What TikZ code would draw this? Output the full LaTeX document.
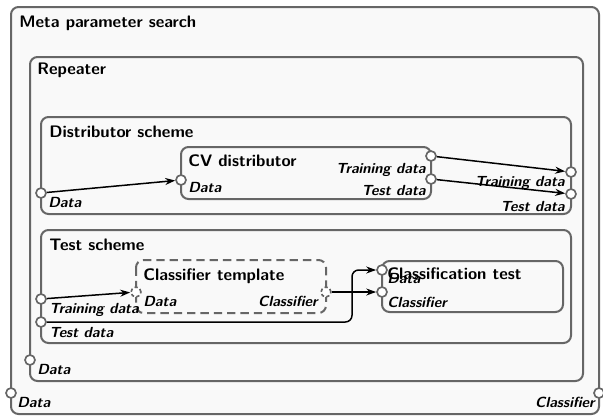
\documentclass[tikz,border=0pt]{standalone}
\usepackage{fontspec}
\usetikzlibrary{arrows.meta}
\definecolor{boxgray}{HTML}{666666}
\definecolor{boxfill}{HTML}{F9F9F9}
\tikzset{
  box/.style={draw=boxgray, fill=boxfill, line width=1.2pt, rounded corners=4.5pt},
  title/.style={anchor=base west, inner sep=0pt, font=\sffamily\bfseries},
  port/.style={circle, draw=boxgray, fill=white, line width=1pt, inner sep=0pt, minimum size=6pt},
  lbl/.style={inner sep=0pt, font=\sffamily\bfseries\itshape\fontsize{8.8}{10}\selectfont},
  flow/.style={-{Stealth[length=6pt,width=4.2pt]}, line width=0.9pt, black}
}
\begin{document}
\begin{tikzpicture}[x=0.6pt,y=-0.6pt]
\useasboundingbox (0,0) rectangle (603,417);
% boxes, outer to inner
\draw[box] (11,7) rectangle (599,414);
\node[title] (metaT) at (19,27) {Meta parameter search};
\draw[box] (30,57) rectangle (583,381);
\node[title] (repT) at (37,74) {Repeater};
\draw[box] (41,117) rectangle (571,214);
\node[title] (distT) at (49,137) {Distributor scheme};
\draw[box] (181,147) rectangle (431,199);
\node[title] (cvT) at (188,166) {CV distributor};
\draw[box] (41,230) rectangle (571,343);
\node[title] (testT) at (49,250) {Test scheme};
\draw[box, dashed, dash pattern=on 5pt off 3pt] (136,260) rectangle (326,313);
\node[title] (tmplT) at (143,280) {Classifier template};
\draw[box] (382,261) rectangle (563,312);
\node[title] (ctT) at (387,279) {Classification test};
% ports
\node[port] (metaData) at (11,393) {};
\node[port] (metaCls) at (599,393) {};
\node[port] (repData) at (30,360) {};
\node[port] (distData) at (41,193) {};
\node[port] (distTrain) at (571,172) {};
\node[port] (distTest) at (571,194) {};
\node[port] (cvData) at (181,180) {};
\node[port] (cvTrain) at (431,156) {};
\node[port] (cvTest) at (431,179) {};
\node[port] (tsTrain) at (41,299) {};
\node[port] (tsTest) at (41,322) {};
\node[port, dashed, dash pattern=on 2pt off 1.5pt] (tmplData) at (136,292) {};
\node[port, dashed, dash pattern=on 2pt off 1.5pt] (tmplCls) at (326,292) {};
\node[port] (ctData) at (382,270) {};
\node[port] (ctCls) at (382,292) {};
% port labels
\node[lbl, anchor=base west] (metaDataL) at (17,407) {Data};
\node[lbl, anchor=base east] (metaClsL) at (595,407) {Classifier};
\node[lbl, anchor=base west] (repDataL) at (37,374) {Data};
\node[lbl, anchor=base west] (distDataL) at (48,207) {Data};
\node[lbl, anchor=base east] (distTrainL) at (565,186) {Training data};
\node[lbl, anchor=base east] (distTestL) at (565,211) {Test data};
\node[lbl, anchor=base west] (cvDataL) at (188,192) {Data};
\node[lbl, anchor=base east] (cvTrainL) at (426,173) {Training data};
\node[lbl, anchor=base east] (cvTestL) at (426,195) {Test data};
\node[lbl, anchor=base west] (tsTrainL) at (49,313) {Training data};
\node[lbl, anchor=base west] (tsTestL) at (49,337) {Test data};
\node[lbl, anchor=base west] (tmplDataL) at (143,306) {Data};
\node[lbl, anchor=base east] (tmplClsL) at (318,306) {Classifier};
\node[lbl, anchor=base west] (ctDataL) at (387,283) {Data};
\node[lbl, anchor=base west] (ctClsL) at (387,307) {Classifier};
% connections
\draw[flow] (distData) -- (cvData);
\draw[flow] (cvTrain) -- (distTrain);
\draw[flow] (cvTest) -- (distTest);
\draw[flow] (tsTrain) -- (tmplData);
\draw[flow] (tmplCls) -- (ctCls);
\coordinate (bend) at (352,322);
\draw[flow, rounded corners=4pt] (tsTest) -- (bend) |- (ctData);
\end{tikzpicture}
\end{document}
